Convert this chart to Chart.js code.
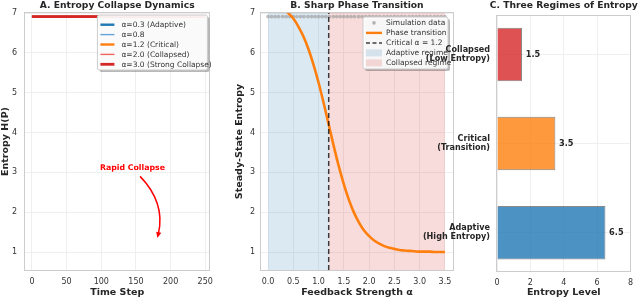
<!DOCTYPE html>
<html><head><meta charset="utf-8">
<script src="https://cdn.jsdelivr.net/npm/chart.js@4.4.1/dist/chart.umd.min.js"></script>
<style>
html,body{margin:0;padding:0;background:#fff;}
#wrap{position:relative;width:640px;height:298px;overflow:hidden;background:#fff;}
canvas{position:absolute;top:0;}
</style></head><body>
<div id="wrap">
<canvas id="ca" width="220" height="298" style="left:0px"></canvas>
<canvas id="cb" width="226" height="298" style="left:234px"></canvas>
<canvas id="cc" width="220" height="298" style="left:420px"></canvas>
</div>
<script>
// ---------- DATA ----------
// Panel A
const timeSteps = [0, 50, 100, 150, 200, 250];
const entropyAlpha03 = [6.91, 6.91, 6.91, 6.91, 6.91, 6.91];
const entropyAlpha08 = [6.91, 6.91, 6.91, 6.91, 6.91, 6.91];
const entropyAlpha12 = [6.91, 6.91, 6.91, 6.91, 6.91, 6.91];
const entropyAlpha20 = [6.91, 6.91, 6.91, 6.91, 6.91, 6.91];
const entropyAlpha30 = [6.91, 6.91, 6.91, 6.91, 6.91, 6.91];
const seriesLabelsA = ['α=0.3 (Adaptive)', 'α=0.8', 'α=1.2 (Critical)', 'α=2.0 (Collapsed)', 'α=3.0 (Strong Collapse)'];
const xTicksA = [0, 50, 100, 150, 200, 250];
const yTicksAB = [1, 2, 3, 4, 5, 6, 7];
const noteText = 'Rapid Collapse';
const noteTextAt = [145, 3.1];
const noteArrowFrom = [156, 2.9];
const noteArrowTo = [181, 1.35];

// Panel B
const simAlpha = [0.00,0.07,0.14,0.21,0.29,0.36,0.43,0.50,0.57,0.64,0.71,0.79,0.86,0.93,1.00,1.07,1.14,1.21,1.29,1.36,1.43,1.50,1.57,1.64,1.71,1.79,1.86,1.93,2.00,2.07,2.14,2.21,2.29,2.36,2.43,2.50,2.57,2.64,2.71,2.79,2.86,2.93,3.00,3.07,3.14,3.21,3.29,3.36,3.43,3.50];
const simEntropy = [6.91,6.91,6.91,6.91,6.91,6.91,6.91,6.91,6.91,6.91,6.91,6.91,6.91,6.91,6.91,6.91,6.91,6.91,6.91,6.91,6.91,6.91,6.91,6.91,6.91,6.91,6.91,6.91,6.91,6.91,6.91,6.91,6.91,6.91,6.91,6.91,6.91,6.91,6.91,6.91,6.91,6.91,6.91,6.91,6.91,6.91,6.91,6.91,6.91,6.91];
const curveAlpha = [0.0,0.1,0.2,0.3,0.4,0.5,0.6,0.7,0.8,0.9,1.0,1.1,1.2,1.3,1.4,1.5,1.6,1.7,1.8,1.9,2.0,2.1,2.2,2.3,2.4,2.5,2.6,2.7,2.8,2.9,3.0,3.1,3.2,3.3,3.4,3.5];
const curveEntropy = [7.29,7.25,7.19,7.11,7.00,6.86,6.66,6.41,6.09,5.70,5.25,4.74,4.20,3.66,3.15,2.70,2.31,1.99,1.74,1.54,1.40,1.29,1.21,1.15,1.11,1.08,1.05,1.04,1.03,1.02,1.01,1.01,1.01,1.00,1.00,1.00];
const criticalAlpha = [1.2, 1.2];
const criticalSpanY = [0.55, 7.0];
const adaptiveRange = [0.0, 1.2];
const collapsedRange = [1.2, 3.5];
const seriesLabelsB = ['Simulation data', 'Phase transition', 'Critical α = 1.2', 'Adaptive regime', 'Collapsed regime'];
const xTicksB = [0.0, 0.5, 1.0, 1.5, 2.0, 2.5, 3.0, 3.5];

// Panel C
const regimeLabels = [['Collapsed', '(Low Entropy)'], ['Critical', '(Transition)'], ['Adaptive', '(High Entropy)']];
const regimeValues = [1.5, 3.5, 6.5];
const regimeIndex = [0, 1, 2];
const xTicksC = [0, 2, 4, 6, 8];

// ---------- STYLE ----------
const FONT = "'DejaVu Sans', sans-serif";
const GRID = '#efefef';
const FRAME = '#cccccc';
const TXT = '#262626';
Chart.defaults.font.family = FONT;
Chart.defaults.color = TXT;
Chart.defaults.animation = false;
Chart.defaults.events = [];
Chart.defaults.plugins.legend.display = false;
Chart.defaults.plugins.tooltip.enabled = false;

function linScale(o) {
  return {
    type: 'linear', min: o.min, max: o.max, reverse: !!o.reverse, offset: false,
    grid: { color: GRID, drawTicks: false, lineWidth: 1, offset: false },
    border: { display: false },
    ticks: Object.assign({ font: { size: 8 }, color: '#333', padding: o.pad }, o.ticks || {}),
    title: o.title ? { display: true, text: o.title, font: { size: 9.5, weight: 'bold' }, color: TXT, padding: 0 } : { display: false },
    afterBuildTicks: s => { s.ticks = o.tickVals.map(v => ({ value: v })); },
    afterFit: s => { if (o.w != null) s.width = o.w; if (o.h != null) s.height = o.h; }
  };
}

function drawFrame(chart) {
  const { ctx, chartArea: a } = chart;
  ctx.save();
  ctx.strokeStyle = FRAME; ctx.lineWidth = 1;
  ctx.strokeRect(Math.round(a.left) - 0.5, Math.round(a.top) - 0.5, Math.round(a.right - a.left) + 1, Math.round(a.bottom - a.top) + 1);
  ctx.restore();
}
function drawTitle(chart, text) {
  const { ctx, chartArea: a } = chart;
  ctx.save();
  ctx.font = 'bold 9.2px ' + FONT;
  ctx.fillStyle = TXT; ctx.textAlign = 'center'; ctx.textBaseline = 'middle';
  ctx.fillText(text, (a.left + a.right) / 2, 5.5);
  ctx.restore();
}
function roundRect(ctx, x, y, w, h, r) {
  ctx.beginPath();
  ctx.moveTo(x + r, y); ctx.lineTo(x + w - r, y); ctx.quadraticCurveTo(x + w, y, x + w, y + r);
  ctx.lineTo(x + w, y + h - r); ctx.quadraticCurveTo(x + w, y + h, x + w - r, y + h);
  ctx.lineTo(x + r, y + h); ctx.quadraticCurveTo(x, y + h, x, y + h - r);
  ctx.lineTo(x, y + r); ctx.quadraticCurveTo(x, y, x + r, y); ctx.closePath();
}
function drawLegend(ctx, box, items) {
  ctx.save();
  ctx.fillStyle = 'rgba(0,0,0,0.28)';
  roundRect(ctx, box.x + 2, box.y + 2, box.w, box.h, 2); ctx.fill();
  ctx.fillStyle = 'rgba(255,255,255,0.92)';
  roundRect(ctx, box.x, box.y, box.w, box.h, 2); ctx.fill();
  ctx.strokeStyle = '#cccccc'; ctx.lineWidth = 1; ctx.stroke();
  ctx.font = '7.5px ' + FONT; ctx.textBaseline = 'middle'; ctx.textAlign = 'left';
  items.forEach((it, i) => {
    const y = box.y + box.first + i * box.row;
    const x0 = box.x + box.sx0, x1 = box.x + box.sx1;
    ctx.save();
    if (it.type === 'line' || it.type === 'dash') {
      ctx.strokeStyle = it.color; ctx.lineWidth = it.width;
      if (it.type === 'dash') ctx.setLineDash([4, 2.5]);
      ctx.beginPath(); ctx.moveTo(x0, y); ctx.lineTo(x1, y); ctx.stroke();
    } else if (it.type === 'dot') {
      ctx.fillStyle = it.color; ctx.beginPath(); ctx.arc((x0 + x1) / 2, y, 1.8, 0, Math.PI * 2); ctx.fill();
    } else if (it.type === 'patch') {
      ctx.fillStyle = it.color; ctx.fillRect(x0, y - 3.5, x1 - x0, 7);
    }
    ctx.restore();
    ctx.fillStyle = '#333';
    ctx.fillText(it.label, box.x + box.tx, y + 0.5);
  });
  ctx.restore();
}

// ---------- PANEL A ----------
const colorsA = ['#1f77b4', '#66a3d9', '#ff7f0e', '#f0665c', '#d62728'];
const widthsA = [2.4, 1.4, 2.4, 1.4, 2.8];
const seriesA = [entropyAlpha03, entropyAlpha08, entropyAlpha12, entropyAlpha20, entropyAlpha30];
new Chart(document.getElementById('ca'), {
  type: 'line',
  data: {
    datasets: seriesA.map((s, k) => ({
      label: seriesLabelsA[k],
      data: timeSteps.map((t, i) => ({ x: t, y: s[i] })),
      borderColor: colorsA[k], borderWidth: widthsA[k], pointRadius: 0, order: 4 - k,
      borderCapStyle: 'butt'
    }))
  },
  options: {
    responsive: false,
    layout: { padding: { top: 13, right: 5, left: 0, bottom: 0 } },
    scales: {
      x: linScale({ min: -10, max: 256, tickVals: xTicksA, pad: 7, title: 'Time Step', h: 28 }),
      y: linScale({ min: 0.55, max: 7.0, tickVals: yTicksAB, pad: 8, title: 'Entropy H(P)', w: 25 })
    }
  },
  plugins: [{
    id: 'decoA',
    afterDatasetsDraw(chart) {
      const { ctx, scales: { x, y } } = chart;
      drawFrame(chart);
      // annotation
      ctx.save();
      ctx.fillStyle = '#ff0000'; ctx.strokeStyle = '#ff0000';
      ctx.font = 'bold 7.8px ' + FONT; ctx.textAlign = 'center'; ctx.textBaseline = 'middle';
      ctx.fillText(noteText, x.getPixelForValue(noteTextAt[0]), y.getPixelForValue(noteTextAt[1]));
      const sx = x.getPixelForValue(noteArrowFrom[0]), sy = y.getPixelForValue(noteArrowFrom[1]);
      const ex = x.getPixelForValue(noteArrowTo[0]), ey = y.getPixelForValue(noteArrowTo[1]);
      const mx = (sx + ex) / 2, my = (sy + ey) / 2;
      const dx = ex - sx, dy = ey - sy, L = Math.hypot(dx, dy);
      const cx = mx + 0.27 * L * (dy / L), cy = my - 0.27 * L * (dx / L);
      const tx = ex - cx, ty = ey - cy, tl = Math.hypot(tx, ty);
      const ux = tx / tl, uy = ty / tl;
      const hl = 6, hw = 2.6;
      ctx.lineWidth = 1.5;
      ctx.beginPath(); ctx.moveTo(sx, sy); ctx.quadraticCurveTo(cx, cy, ex - ux * hl * 0.8, ey - uy * hl * 0.8); ctx.stroke();
      ctx.beginPath();
      ctx.moveTo(ex, ey);
      ctx.lineTo(ex - ux * hl - uy * hw, ey - uy * hl + ux * hw);
      ctx.lineTo(ex - ux * hl + uy * hw, ey - uy * hl - ux * hw);
      ctx.closePath(); ctx.fill();
      ctx.restore();
    },
    afterDraw(chart) {
      const a = chart.chartArea;
      drawLegend(chart.ctx, { x: a.right - 112, y: a.top + 2, w: 110, h: 55, first: 9.7, row: 9.9, sx0: 3, sx1: 17, tx: 24 },
        seriesLabelsA.map((l, k) => ({ type: 'line', color: colorsA[k], width: widthsA[k], label: l })));
      drawTitle(chart, 'A. Entropy Collapse Dynamics');
    }
  }]
});

// ---------- PANEL B ----------
const spanBlue = 'rgba(31,119,180,0.16)';
const spanPink = 'rgba(214,39,40,0.16)';
new Chart(document.getElementById('cb'), {
  type: 'line',
  data: {
    datasets: [
      { label: seriesLabelsB[0], data: simAlpha.map((a, i) => ({ x: a, y: simEntropy[i] })), showLine: false,
        pointRadius: 1.9, pointBackgroundColor: 'rgba(150,150,150,0.6)', pointBorderWidth: 0, order: 3 },
      { label: seriesLabelsB[1], data: curveAlpha.map((a, i) => ({ x: a, y: curveEntropy[i] })), borderColor: '#ff7f0e',
        borderWidth: 2.6, pointRadius: 0, cubicInterpolationMode: 'monotone', order: 1 },
      { label: seriesLabelsB[2], data: criticalAlpha.map((a, i) => ({ x: a, y: criticalSpanY[i] })), borderColor: 'rgba(0,0,0,0.75)',
        borderWidth: 1.5, borderDash: [5, 3], pointRadius: 0, order: 0 }
    ]
  },
  options: {
    responsive: false,
    layout: { padding: { top: 13, right: 7, left: 0, bottom: 0 } },
    scales: {
      x: linScale({ min: -0.14, max: 3.66, tickVals: xTicksB, pad: 7, title: 'Feedback Strength α', h: 28,
        ticks: { callback: v => Number(v).toFixed(1) } }),
      y: linScale({ min: 0.55, max: 7.0, tickVals: yTicksAB, pad: 6, title: 'Steady-State Entropy', w: 27 })
    }
  },
  plugins: [{
    id: 'decoB',
    beforeDatasetsDraw(chart) {
      const { ctx, chartArea: a, scales: { x } } = chart;
      ctx.save();
      ctx.fillStyle = spanBlue;
      ctx.fillRect(x.getPixelForValue(adaptiveRange[0]), a.top, x.getPixelForValue(adaptiveRange[1]) - x.getPixelForValue(adaptiveRange[0]), a.bottom - a.top);
      ctx.fillStyle = spanPink;
      ctx.fillRect(x.getPixelForValue(collapsedRange[0]), a.top, x.getPixelForValue(collapsedRange[1]) - x.getPixelForValue(collapsedRange[0]), a.bottom - a.top);
      ctx.restore();
    },
    afterDatasetsDraw(chart) { drawFrame(chart); },
    afterDraw(chart) {
      const a = chart.chartArea;
      drawLegend(chart.ctx, { x: a.right - 90, y: a.top + 4, w: 85, h: 52, first: 5.9, row: 10, sx0: 3, sx1: 19, tx: 23 }, [
        { type: 'dot', color: 'rgba(150,150,150,0.7)', label: seriesLabelsB[0] },
        { type: 'line', color: '#ff7f0e', width: 2.4, label: seriesLabelsB[1] },
        { type: 'dash', color: 'rgba(0,0,0,0.75)', width: 1.5, label: seriesLabelsB[2] },
        { type: 'patch', color: spanBlue, label: seriesLabelsB[3] },
        { type: 'patch', color: spanPink, label: seriesLabelsB[4] }
      ]);
      drawTitle(chart, 'B. Sharp Phase Transition');
    }
  }]
});

// ---------- PANEL C ----------
const barColors = ['rgba(214,39,40,0.8)', 'rgba(255,127,14,0.8)', 'rgba(31,119,180,0.8)'];
new Chart(document.getElementById('cc'), {
  type: 'bar',
  data: {
    datasets: [{
      data: regimeIndex.map((r, i) => ({ x: regimeValues[i], y: r })),
      backgroundColor: barColors, borderColor: 'rgba(60,60,60,0.6)', borderWidth: 1,
      categoryPercentage: 1, barPercentage: 0.6
    }]
  },
  options: {
    responsive: false,
    indexAxis: 'y',
    layout: { padding: { top: 13, right: 8, left: 0, bottom: 0 } },
    scales: {
      x: linScale({ min: 0, max: 8, tickVals: xTicksC, pad: 7, title: 'Entropy Level', h: 27 }),
      y: linScale({ min: -0.43, max: 2.43, reverse: true, tickVals: regimeIndex, pad: 7, w: 77,
        ticks: { font: { size: 8.1, weight: 'bold', lineHeight: 1.12 }, color: TXT, callback: v => regimeLabels[v] } })
    }
  },
  plugins: [{
    id: 'decoC',
    afterDatasetsDraw(chart) {
      const { ctx, scales: { x } } = chart;
      drawFrame(chart);
      const meta = chart.getDatasetMeta(0);
      ctx.save();
      ctx.font = 'bold 8.2px ' + FONT; ctx.fillStyle = TXT; ctx.textAlign = 'left'; ctx.textBaseline = 'middle';
      meta.data.forEach((bar, i) => {
        ctx.fillText(regimeValues[i].toFixed(1), x.getPixelForValue(regimeValues[i] + 0.22), bar.y);
      });
      ctx.restore();
    },
    afterDraw(chart) { drawTitle(chart, 'C. Three Regimes of Entropy'); }
  }]
});
</script>
</body></html>
